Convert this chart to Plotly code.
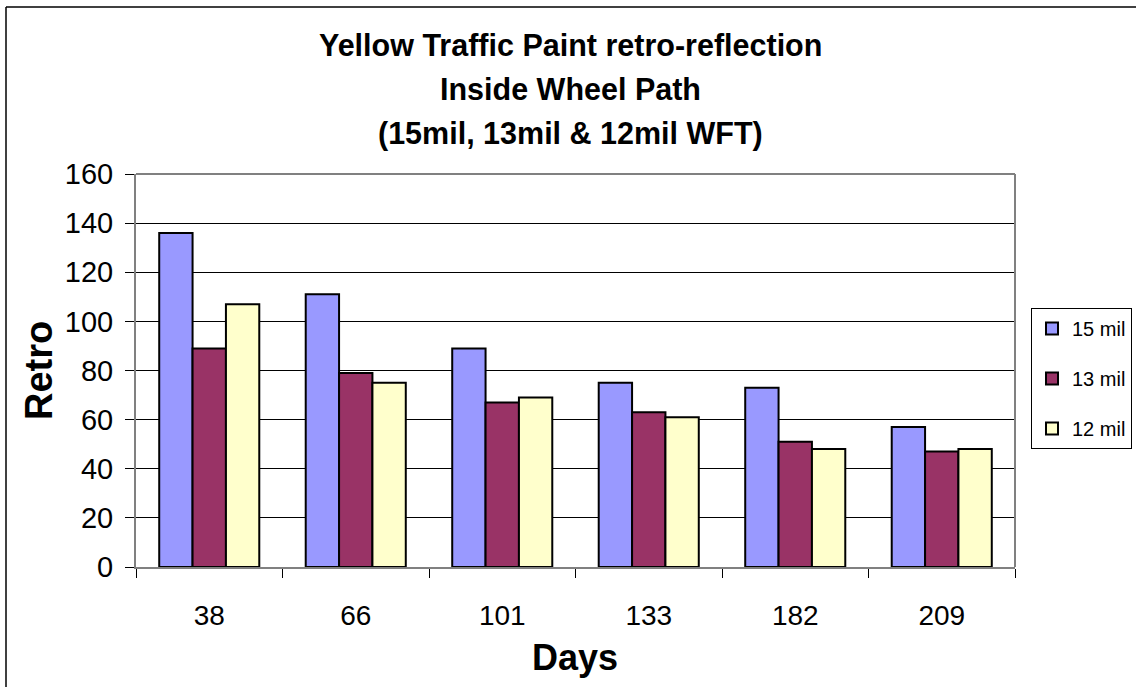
import plotly.graph_objects as go

# Days after application and the three wet-film thickness series
days = ["38", "66", "101", "133", "182", "209"]
mil_15 = [136, 111, 89, 75, 73, 57]
mil_13 = [89, 79, 67, 63, 51, 47]
mil_12 = [107, 75, 69, 61, 48, 48]
series_names = ["15 mil", "13 mil", "12 mil"]
series_colors = ["#9999FF", "#993366", "#FFFFCC"]
title_lines = [
    "Yellow Traffic Paint retro-reflection",
    "Inside Wheel Path",
    "(15mil, 13mil & 12mil WFT)",
]
y_ticks = [0, 20, 40, 60, 80, 100, 120, 140, 160]

W, H = 1136, 687
ML, MR, MT, MB = 136, 121, 174, 120
PH = H - MT - MB
PW = W - ML - MR


def py(pix):
    """Pixel row -> paper y."""
    return (H - MB - pix) / PH


def px(pix):
    """Pixel column -> paper x."""
    return (pix - ML) / PW


FONT = "Liberation Sans, Arial, sans-serif"

fig = go.Figure()
for name, vals, col in zip(series_names, [mil_15, mil_13, mil_12], series_colors):
    fig.add_trace(go.Bar(
        x=days, y=vals, name=name, legendgroup=name,
        marker=dict(color=col, line=dict(color="#000000", width=2)),
    ))

annotations = []
for line, row in zip(title_lines, [45, 89, 133]):
    annotations.append(dict(
        text=f"<b>{line}</b>", xref="paper", yref="paper",
        x=px(570), y=py(row), xanchor="center", yanchor="middle",
        showarrow=False, font=dict(family=FONT, size=30.5, color="#000000"),
    ))
annotations.append(dict(
    text="<b>Days</b>", xref="paper", yref="paper",
    x=px(575), y=py(657), xanchor="center", yanchor="middle",
    showarrow=False, font=dict(family=FONT, size=36, color="#000000"),
))
annotations.append(dict(
    text="<b>Retro</b>", xref="paper", yref="paper",
    x=px(39), y=py(371), xanchor="center", yanchor="middle", textangle=-90,
    showarrow=False, font=dict(family=FONT, size=38, color="#000000"),
))

shapes = [
    # outer chart frame (left and top edges visible)
    dict(type="line", xref="paper", yref="paper", x0=px(6), x1=px(W + 10),
         y0=py(7), y1=py(7), line=dict(color="#000000", width=1.5)),
    dict(type="line", xref="paper", yref="paper", x0=px(6), x1=px(6),
         y0=py(7), y1=py(H + 10), line=dict(color="#000000", width=1.5)),
    # plot-area border on top and right
    dict(type="line", xref="paper", yref="paper", x0=0, x1=1, y0=1, y1=1,
         line=dict(color="#808080", width=2)),
    dict(type="line", xref="paper", yref="paper", x0=1, x1=1, y0=0, y1=1,
         line=dict(color="#808080", width=2)),
]

fig.update_layout(
    width=W, height=H,
    margin=dict(l=ML, r=MR, t=MT, b=MB, pad=0, autoexpand=False),
    paper_bgcolor="#FFFFFF", plot_bgcolor="#FFFFFF",
    barmode="group", bargap=0.317, bargroupgap=0,
    font=dict(family=FONT, color="#000000"),
    showlegend=True,
    legend=dict(
        x=px(1031), y=py(308), xanchor="left", yanchor="top",
        bordercolor="#000000", borderwidth=1, bgcolor="#FFFFFF",
        font=dict(family=FONT, size=20, color="#000000"),
        traceorder="grouped", tracegroupgap=21,
        itemwidth=30,
    ),
    annotations=annotations,
    shapes=shapes,
)

fig.update_xaxes(
    type="category", tickson="boundaries", ticks="outside", ticklen=9,
    tickcolor="#000000", tickwidth=1,
    showline=True, linecolor="#808080", linewidth=2,
    showgrid=False, ticklabelstandoff=22,
    tickfont=dict(family=FONT, size=28, color="#000000"),
)
fig.update_yaxes(
    range=[0, 160], tickvals=y_ticks, ticks="outside", ticklen=9,
    tickcolor="#000000", tickwidth=1,
    showline=True, linecolor="#808080", linewidth=2,
    showgrid=True, gridcolor="#000000", gridwidth=1,
    zeroline=False, ticklabelstandoff=6,
    tickfont=dict(family=FONT, size=29, color="#000000"),
)

fig.write_html("out.html")
